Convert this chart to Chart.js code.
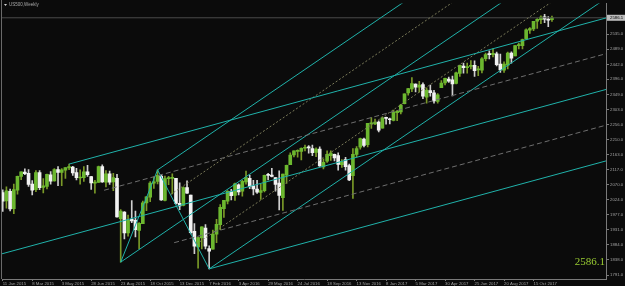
<!DOCTYPE html>
<html>
<head>
<meta charset="utf-8">
<script src="https://cdn.jsdelivr.net/npm/chart.js@4"></script>
<style>
  html, body { margin: 0; padding: 0; background: #0b0b0b; }
  #wrap { width: 625px; height: 286px; }
</style>
</head>
<body>
<div id="wrap"><canvas id="chart" width="625" height="286"></canvas></div>
<script>
// Bougies hebdomadaires (index 0 = semaine du 11 Jan 2015)
const opens = [2046,2020,2050,1996,2053,2096,2109,2105,2072,2055,
  2108,2062,2065,2101,2082,2117,2108,2115,2122,2125,
  2108,2091,2092,2110,2095,2075,2077,2126,2078,2104,
  2079,2090,1965,1986,1921,1963,1960,1929,1950,2014,
  2032,2075,2080,2097,2022,2089,2090,2090,2013,2006,
  2061,2038,1926,1878,1906,1936,1873,1871,1917,1947,
  1996,2019,2049,2037,2070,2050,2079,2090,2067,2057,
  2046,2052,2100,2100,2092,2075,2030,2100,2132,2162,
  2173,2173,2183,2186,2182,2170,2180,2125,2143,2160,
  2164,2160,2132,2148,2129,2098,2164,2186,2211,2194,
  2258,2258,2264,2245,2276,2273,2269,2293,2295,2321,
  2354,2366,2381,2372,2380,2341,2361,2354,2328,2370,
  2385,2397,2394,2383,2414,2437,2432,2436,2439,2425,
  2424,2460,2473,2472,2475,2443,2424,2440,2477,2468,
  2500,2500,2521,2548,2552,2576,2580,2589,2580,2580];
const highs = [2054,2064,2057,2072,2097,2110,2119,2117,2083,2114,
  2114,2089,2103,2111,2120,2126,2120,2123,2134,2127,
  2121,2116,2126,2130,2096,2084,2128,2132,2114,2112,
  2105,2102,1993,1987,1976,2021,1989,1953,2020,2034,
  2080,2094,2116,2101,2097,2096,2104,2090,2076,2064,
  2082,2038,1950,1908,1940,1947,1881,1930,1963,2009,
  2022,2052,2056,2075,2073,2084,2112,2100,2084,2084,
  2071,2100,2105,2121,2092,2113,2103,2131,2169,2175,
  2178,2184,2193,2191,2193,2184,2187,2150,2175,2175,
  2165,2169,2148,2155,2134,2182,2188,2214,2214,2260,
  2278,2273,2268,2280,2279,2276,2301,2300,2319,2351,
  2368,2401,2382,2390,2385,2370,2378,2362,2352,2392,
  2400,2403,2406,2418,2440,2446,2446,2454,2453,2436,
  2463,2477,2484,2490,2480,2474,2450,2480,2481,2500,
  2508,2520,2552,2556,2575,2584,2592,2597,2590,2591];
const lows = [1988,1998,1989,1981,2041,2086,2101,2065,2039,2049,
  2055,2045,2057,2072,2081,2067,2067,2090,2117,2099,
  2085,2072,2080,2096,2056,2044,2077,2077,2063,2071,
  2052,1970,1831,1903,1911,1953,1909,1872,1950,1990,
  2018,2059,2073,2022,2020,2070,2042,2010,1993,2005,
  2043,1918,1857,1812,1872,1872,1810,1871,1891,1931,
  1969,2011,2023,2022,2039,2035,2072,2058,2039,2043,
  2025,2048,2085,2094,2050,1992,1991,2074,2132,2156,
  2155,2147,2175,2168,2160,2157,2127,2119,2139,2145,
  2144,2115,2124,2115,2083,2028,2156,2180,2187,2187,
  2244,2256,2233,2245,2257,2258,2267,2268,2289,2320,
  2347,2358,2357,2356,2336,2322,2344,2322,2322,2370,
  2379,2386,2345,2382,2405,2415,2415,2428,2405,2407,
  2416,2453,2459,2465,2437,2417,2417,2428,2446,2468,
  2490,2490,2520,2538,2546,2553,2568,2571,2559,2575];
const closes = [2019,2051,1995,2055,2096,2110,2104,2071,2053,2108,
  2061,2067,2102,2081,2117,2108,2116,2123,2126,2107,
  2092,2094,2110,2101,2076,2077,2126,2079,2104,2078,
  2092,1971,1989,1921,1961,1958,1931,1951,2014,2033,
  2075,2079,2099,2023,2089,2090,2092,2012,2005,2061,
  2044,1922,1880,1907,1940,1880,1865,1918,1948,2000,
  2022,2050,2036,2073,2048,2081,2092,2065,2057,2047,
  2052,2099,2099,2096,2071,2037,2103,2130,2162,2175,
  2174,2183,2184,2184,2169,2180,2128,2139,2164,2168,
  2153,2133,2141,2126,2085,2164,2182,2213,2192,2260,
  2258,2264,2239,2277,2275,2271,2295,2297,2316,2351,
  2367,2383,2372,2378,2344,2363,2355,2329,2348,2384,
  2399,2390,2382,2416,2439,2432,2433,2438,2423,2425,
  2459,2472,2472,2476,2441,2425,2443,2477,2461,2500,
  2502,2519,2549,2553,2575,2581,2588,2582,2579,2586.1];

// Étiquettes de l'axe du temps (une toutes les 8 semaines)
const dateLabels = ['11 Jan 2015','8 Mar 2015','3 May 2015','28 Jun 2015','23 Aug 2015',
  '18 Oct 2015','13 Dec 2015','7 Feb 2016','3 Apr 2016','29 May 2016','24 Jul 2016',
  '18 Sep 2016','13 Nov 2016','8 Jan 2017','5 Mar 2017','30 Apr 2017','25 Jun 2017',
  '20 Aug 2017','15 Oct 2017'];
const priceTicks = [1791,1838,1884,1931,1977,2024,2070,2117,2163,2210,2256,2303,2349,2396,2442,2489,2535];
const lastPrice = 2586.1;

// Fourchettes d'Andrews : [index, prix] pour P1, P2, P3
const forkOne = [[-13, 1817], [18, 2134], [56, 1810]];
const forkTwo = [[32, 1831], [42, 2116], [56, 1810]];
const forkOneLevels = [0.25, 0.75];
const forkTwoLevels = [0.25, 0.75];

const X_MIN = -0.2, X_MAX = 163.66;
const Y_MIN = 1778.8, Y_MAX = 2630;

const CYAN = '#20b2aa';

/**
 * Construit les segments d'une fourchette (médiane, parallèles, niveaux)
 */
function forkSegments(pts, levels) {
    const [p1, p2, p3] = pts;
    const mid = [(p2[0] + p3[0]) / 2, (p2[1] + p3[1]) / 2];
    const slope = (mid[1] - p1[1]) / (mid[0] - p1[0]);
    const ray = (p) => [{x: p[0], y: p[1]}, {x: X_MAX, y: p[1] + slope * (X_MAX - p[0])}];
    return {
        main: [ray(p1), ray(p2), ray(p3)],
        levels: levels.map(t => ray([p2[0] + t * (p3[0] - p2[0]), p2[1] + t * (p3[1] - p2[1])]))
    };
}

function lineSet(points, color, dash) {
    return {
        type: 'line', data: points, borderColor: color, borderWidth: 1,
        borderDash: dash || [], pointRadius: 0, fill: false, tension: 0, order: 0
    };
}

const f1 = forkSegments(forkOne, forkOneLevels);
const f2 = forkSegments(forkTwo, forkTwoLevels);

const lineDatasets = [];
f1.main.forEach(seg => lineDatasets.push(lineSet(seg, CYAN)));
f1.levels.forEach(seg => lineDatasets.push(lineSet(seg, '#6e6e6e', [5, 3])));
f2.main.forEach(seg => lineDatasets.push(lineSet(seg, CYAN)));
f2.levels.forEach(seg => lineDatasets.push(lineSet(seg, '#7b7b5a', [2, 2])));
// tracés P1-P2 et P2-P3 de la seconde fourchette
lineDatasets.push(lineSet([{x: forkTwo[0][0], y: forkTwo[0][1]}, {x: forkTwo[1][0], y: forkTwo[1][1]}], CYAN));
lineDatasets.push(lineSet([{x: forkTwo[1][0], y: forkTwo[1][1]}, {x: forkTwo[2][0], y: forkTwo[2][1]}], CYAN));
// ligne du dernier prix
lineDatasets.push(lineSet([{x: X_MIN, y: lastPrice}, {x: X_MAX, y: lastPrice}], '#4a4a4a'));

const isBull = closes.map((c, i) => c >= opens[i]);

const bodies = {
    type: 'bar',
    data: opens.map((o, i) => ({x: i, y: [o, closes[i]]})),
    backgroundColor: isBull.map(b => b ? '#6cb82f' : '#f2f2f2'),
    barThickness: 3, grouped: false, minBarLength: 1, borderWidth: 0, order: 1
};
const wicks = {
    type: 'bar',
    data: lows.map((l, i) => ({x: i, y: [l, highs[i]]})),
    backgroundColor: isBull.map(b => b ? '#7a9a28' : '#cfcfcf'),
    barThickness: 1, grouped: false, borderWidth: 0, order: 2
};

const decorPlugin = {
    id: 'decor',
    beforeDraw(chart) {
        const ctx = chart.ctx;
        ctx.save();
        ctx.fillStyle = '#0b0b0b';
        ctx.fillRect(0, 0, chart.width, chart.height);
        ctx.restore();
    },
    afterDraw(chart) {
        const ctx = chart.ctx;
        const area = chart.chartArea;
        const yScale = chart.scales.y;
        ctx.save();
        // bordure gauche
        ctx.strokeStyle = '#6a6a6a';
        ctx.lineWidth = 1;
        ctx.beginPath();
        ctx.moveTo(1.5, 0);
        ctx.lineTo(1.5, area.bottom);
        ctx.stroke();
        // titre
        ctx.fillStyle = '#d0d0d0';
        ctx.beginPath();
        ctx.moveTo(4, 4); ctx.lineTo(7, 4); ctx.lineTo(5.5, 6); ctx.closePath();
        ctx.fill();
        ctx.fillStyle = '#a8a8a8';
        ctx.font = '4.5px "Liberation Sans"';
        ctx.textBaseline = 'middle';
        ctx.fillText('US500,Weekly', 9, 5);
        // étiquette du dernier prix
        const py = yScale.getPixelForValue(lastPrice);
        ctx.fillStyle = '#bdbdbd';
        ctx.fillRect(area.right + 1, py - 3, 18, 6);
        ctx.fillStyle = '#000';
        ctx.font = '4.3px "Liberation Sans"';
        ctx.fillText(lastPrice.toFixed(1), area.right + 4, py + 0.3);
        // gros texte du prix
        ctx.fillStyle = '#9acd32';
        ctx.font = '11px "Liberation Serif"';
        ctx.textAlign = 'right';
        ctx.textBaseline = 'alphabetic';
        ctx.fillText(lastPrice.toFixed(1), area.right - 1, 265);
        ctx.restore();
    }
};

Chart.defaults.font.family = '"Liberation Sans"';
Chart.defaults.font.size = 4.3;
Chart.defaults.color = '#a0a0a0';

new Chart(document.getElementById('chart').getContext('2d'), {
    type: 'bar',
    data: { datasets: [...lineDatasets, bodies, wicks] },
    options: {
        responsive: false,
        animation: false,
        events: [],
        layout: { padding: { left: 2, top: 1, right: 0, bottom: 0 } },
        plugins: { legend: { display: false }, tooltip: { enabled: false } },
        scales: {
            x: {
                type: 'linear', min: X_MIN, max: X_MAX, offset: false,
                afterFit(scale) { scale.height = 7; scale.paddingLeft = 0; scale.paddingRight = 0; },
                afterBuildTicks(scale) { scale.ticks = dateLabels.map((_, k) => ({value: k * 8})); },
                grid: { drawOnChartArea: false, drawTicks: true, tickLength: 2, color: '#7a7a7a', offset: false },
                border: { display: true, color: '#7a7a7a' },
                ticks: {
                    autoSkip: false, maxRotation: 0, minRotation: 0, align: 'start', padding: 0,
                    callback: (v) => dateLabels[Math.round(v / 8)] || ''
                }
            },
            y: {
                type: 'linear', position: 'right', min: Y_MIN, max: Y_MAX,
                afterFit(scale) { scale.width = 19; },
                afterBuildTicks(scale) { scale.ticks = priceTicks.map(v => ({value: v})); },
                grid: { drawOnChartArea: false, drawTicks: true, tickLength: 3, color: '#7a7a7a' },
                border: { display: true, color: '#7a7a7a' },
                ticks: { padding: 1, callback: (v) => v.toFixed(1) }
            }
        }
    },
    plugins: [decorPlugin]
});
</script>
</body>
</html>
